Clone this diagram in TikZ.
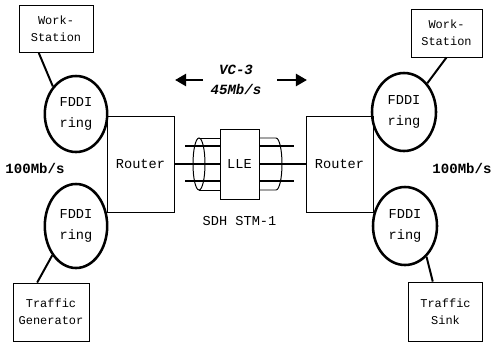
\documentclass[tikz,border=0pt]{standalone}
\usepackage{fontspec}
\setmonofont{Liberation Mono}
\usepackage{tikz}
\usetikzlibrary{positioning, arrows.meta, shapes.geometric, calc}

\begin{document}
\begin{tikzpicture}[x=0.025cm, y=-0.025cm, node distance=0.3cm,
    box/.style={draw, line width=0.6pt, align=center, inner sep=1pt, minimum width=1.85cm, font=\ttfamily\fontsize{8.5}{12}\selectfont},
    ring/.style={draw, ellipse, line width=1.8pt, align=center, inner sep=0pt, minimum width=1.56cm, minimum height=1.9cm, font=\ttfamily\fontsize{9.7}{15.5}\selectfont},
    router/.style={draw, line width=0.6pt, minimum width=1.675cm, minimum height=2.4cm, font=\ttfamily\fontsize{9.7}{12}\selectfont},
    link/.style={line width=1.4pt},
    wire/.style={line width=1.2pt},
    strand/.style={line width=0.9pt},
    rate/.style={font=\ttfamily\bfseries\fontsize{10}{14}\selectfont},
    bigarrow/.style={line width=2pt, -{Triangle[length=2.8mm, width=3mm]}}]
  \useasboundingbox (0,0) rectangle (492,343);

  % left network
  \node[box, minimum height=1.175cm] (ws1) at (56,29) {Work-\\Station};
  \node[ring] (ring1) at (76,114) {FDDI\\ring};
  \node[ring, minimum height=2.1cm] (ring2) at (76,226) {FDDI\\ring};
  \node[box, minimum width=1.9cm, minimum height=1.45cm] (gen) at (51,312) {Traffic\\Generator};
  \node[router] (rt1) at (140.5,164) {Router};

  % link
  \node[draw, line width=0.6pt, minimum width=0.975cm, minimum height=1.75cm, font=\ttfamily\fontsize{9.7}{12}\selectfont] (lle) at (239.5,164) {LLE};
  \node[below=0.3cm of lle, font=\ttfamily\fontsize{9.7}{12}\selectfont] (sdh) {SDH STM-1};

  % right network
  \node[router] (rt2) at (339.5,164) {Router};
  \node[ring, minimum width=1.6cm, minimum height=1.95cm] (ring3) at (404,112) {FDDI\\ring};
  \node[ring, minimum width=1.6cm, minimum height=1.95cm] (ring4) at (405,226) {FDDI\\ring};
  \node[box, minimum width=1.775cm, minimum height=1.2cm] (ws2) at (446.5,33) {Work-\\Station};
  \node[box, minimum height=1.475cm] (sink) at (445.5,311.5) {Traffic\\Sink};

  \node[rate] (bw1) at (35,168) {100Mb/s};
  \node[rate] (bw2) at (462,168) {100Mb/s};
  \node[rate, font=\ttfamily\bfseries\itshape\fontsize{10}{14}\selectfont, align=center] (vc) at (236,80) {VC-3\\45Mb/s};

  \coordinate (la) at (203,80);
  \coordinate (lb) at (175,80);
  \coordinate (ra) at (277,80);
  \coordinate (rb) at (307,80);
  \draw[bigarrow] (la) -- (lb);
  \draw[bigarrow] (ra) -- (rb);

  \draw[link] ($(ws1.south west)!0.27!(ws1.south east)$) -- (ring1.130);
  \draw[link] (ring2.231) -- ($(gen.north west)!0.32!(gen.north east)$);
  \draw[link] (ring3.51) -- (ws2.south);
  \draw[link] (ring4.305) -- ($(sink.north west)!0.33!(sink.north east)$);

  % cable
  \draw[wire] (rt1) -- (lle);
  \draw[wire] (lle) -- (rt2);
  \coordinate (s1) at (185,146);
  \coordinate (s2) at (185,181);
  \coordinate (s3) at (294,146);
  \coordinate (s4) at (294,181);
  \draw[strand] (s1) -- (lle.west |- s1);
  \draw[strand] (s2) -- (lle.west |- s2);
  \draw[strand] (lle.east |- s3) -- (s3);
  \draw[strand] (lle.east |- s4) -- (s4);
  \draw[line width=0.7pt] (199,164) ellipse [x radius=6, y radius=26];
  \draw[line width=0.7pt] (199,138) -- (220,138) (199,190) -- (220,190);
  \draw[line width=0.7pt] (259,138) -- (276,138) arc[start angle=-90, end angle=90, x radius=6, y radius=26] -- (259,190);
\end{tikzpicture}
\end{document}
